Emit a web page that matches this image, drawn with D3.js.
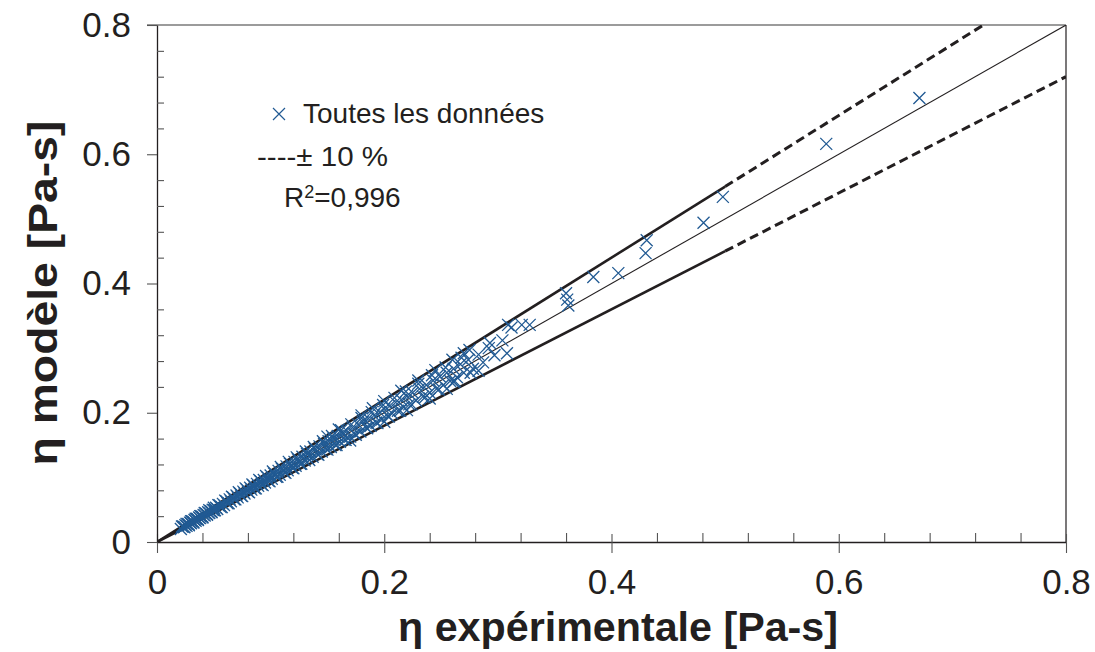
<!DOCTYPE html>
<html><head><meta charset="utf-8">
<script src="https://cdn.jsdelivr.net/npm/d3@7"></script>
<style>
html,body{margin:0;padding:0;background:#fff;}
text{font-family:"Liberation Sans",Arial,sans-serif;fill:#231f20;}
</style></head>
<body>
<svg id="c" width="1095" height="652"></svg>
<script>
// Experimental viscosity (x) and model viscosity (y), Pa-s
const expVals = [
0.021,0.023,0.024,0.025,0.026,0.027,0.028,0.029,0.030,0.031,0.032,0.033,0.034,0.035,0.036,0.037,0.038,0.039,0.040,0.041,
0.042,0.043,0.044,0.045,0.046,0.047,0.048,0.049,0.050,0.052,0.053,0.055,0.056,0.058,0.059,0.061,0.062,0.064,0.065,0.067,
0.068,0.070,0.071,0.073,0.074,0.076,0.077,0.079,0.080,0.082,0.083,0.085,0.086,0.088,0.089,0.091,0.092,0.094,0.095,0.097,
0.098,0.100,0.101,0.103,0.105,0.107,0.108,0.110,0.112,0.114,0.115,0.117,0.119,0.121,0.122,0.124,0.126,0.128,0.130,0.132,
0.133,0.135,0.137,0.139,0.141,0.143,0.145,0.147,0.149,0.151,0.153,0.155,0.157,0.159,0.161,0.163,0.165,0.167,0.170,0.172,
0.174,0.177,0.179,0.181,0.184,0.186,0.188,0.191,0.193,0.196,0.198,0.200,0.203,0.205,0.207,0.210,0.212,0.215,0.217,0.220,
0.222,0.225,0.228,0.231,0.234,0.237,0.240,0.243,0.246,0.249,0.252,0.255,0.258,0.261,0.264,0.267,0.270,0.274,0.278,0.283,
0.287,0.292,0.297,
0.150,0.160,0.180,0.190,0.200,0.215,0.230,0.245,0.260,0.270,0.275,
0.170,0.200,0.220,0.240,0.255,0.283,0.261,0.308,
0.293,0.304,0.309,0.312,0.321,0.328,0.360,0.361,0.362,0.384,0.406,0.430,0.431,0.481,0.498,0.589,0.671
];
const modelVals = [
0.020,0.024,0.023,0.026,0.025,0.028,0.027,0.030,0.029,0.032,0.031,0.034,0.033,0.036,0.035,0.038,0.037,0.040,0.039,0.042,
0.041,0.044,0.043,0.046,0.045,0.048,0.047,0.050,0.049,0.053,0.051,0.057,0.054,0.059,0.057,0.063,0.060,0.066,0.063,0.069,
0.066,0.072,0.069,0.075,0.072,0.078,0.075,0.081,0.078,0.084,0.081,0.087,0.083,0.090,0.087,0.094,0.089,0.096,0.092,0.100,
0.095,0.103,0.098,0.106,0.101,0.110,0.104,0.113,0.108,0.117,0.111,0.121,0.115,0.124,0.118,0.128,0.121,0.132,0.126,0.136,
0.129,0.140,0.132,0.144,0.136,0.148,0.140,0.152,0.144,0.156,0.147,0.160,0.150,0.164,0.155,0.168,0.158,0.172,0.163,0.177,
0.167,0.182,0.171,0.186,0.177,0.191,0.180,0.196,0.185,0.201,0.190,0.206,0.195,0.211,0.199,0.216,0.203,0.220,0.209,0.226,
0.213,0.231,0.219,0.237,0.225,0.243,0.231,0.250,0.237,0.256,0.243,0.262,0.249,0.268,0.255,0.275,0.262,0.282,0.268,0.290,
0.278,0.300,0.289,
0.163,0.174,0.196,0.207,0.218,0.234,0.250,0.266,0.282,0.292,0.297,
0.157,0.186,0.204,0.222,0.237,0.265,0.248,0.292,
0.308,0.312,0.336,0.332,0.336,0.336,0.385,0.375,0.366,0.410,0.416,0.447,0.467,0.494,0.534,0.616,0.687
];
// second batch of measurements (dense low-viscosity range)
const expVals2 = [
0.022,0.024,0.026,0.028,0.030,0.032,0.034,0.036,0.038,0.040,0.042,0.044,0.046,0.048,0.050,0.051,
0.054,0.057,0.060,0.063,0.066,0.069,0.072,0.075,0.078,0.081,0.084,0.087,0.090,0.093,0.096,0.099,0.102,
0.106,0.109,0.113,0.116,0.120,0.123,0.127,0.131,0.134,0.138,0.142,0.146,0.150,0.154,0.158,0.162,0.166,
0.171,0.175,0.180,0.185,0.189,0.194,0.199,0.204,0.209,0.214,0.219,0.224,
0.230,0.236,0.242,0.248,0.254,0.262,0.268,0.276
];
const modelVals2 = [
0.024,0.023,0.028,0.026,0.032,0.030,0.036,0.034,0.040,0.038,
0.045,0.042,0.049,0.046,0.053,0.049,0.057,0.054,0.064,0.060,
0.070,0.066,0.077,0.071,0.083,0.077,0.089,0.083,0.096,0.088,
0.102,0.094,0.109,0.101,0.116,0.107,0.124,0.114,0.131,0.121,
0.140,0.127,0.147,0.135,0.156,0.143,0.164,0.150,0.173,0.158,
0.182,0.166,0.192,0.176,0.201,0.184,0.212,0.194,0.223,0.203,
0.233,0.213,0.245,0.224,0.258,0.236,0.270,0.249,0.285,0.262
];
const majorTicks = [0, 0.2, 0.4, 0.6, 0.8];
const minorTicks = [0.04,0.08,0.12,0.16,0.24,0.28,0.32,0.36,0.44,0.48,0.52,0.56,0.64,0.68,0.72,0.76];
const tickLabels = ["0","0.2","0.4","0.6","0.8"];
const bandFactors = [1.1, 0.9];
const solidLimit = 0.5;
const legendLabels = ["Toutes les données", "----\u00B1 10 %"];
const xTitle = "\u03B7 expérimentale [Pa-s]";
const yTitle = "\u03B7 modèle [Pa-s]";

const svg = d3.select("#c");
const L = 157, R = 1066, T = 25, B = 542;
const x = d3.scaleLinear().domain([0, 0.8]).range([L, R]);
const y = d3.scaleLinear().domain([0, 0.8]).range([B, T]);
const blue = "#215a93", ink = "#231f20";

svg.append("defs").append("clipPath").attr("id","clip")
  .append("rect").attr("x",L).attr("y",T).attr("width",R-L).attr("height",B-T);

// frame: top gray, right black
svg.append("line").attr("x1",L-10).attr("x2",R).attr("y1",T).attr("y2",T).attr("stroke","#7a7a7a").attr("stroke-width",1.3);
svg.append("line").attr("x1",R).attr("x2",R).attr("y1",T).attr("y2",B).attr("stroke",ink).attr("stroke-width",1.2);

// x axis
const fmt = (d) => tickLabels[majorTicks.indexOf(d)];
const gx = svg.append("g").attr("transform",`translate(0,${B})`)
  .call(d3.axisBottom(x).tickValues(majorTicks).tickFormat(fmt).tickSizeOuter(0).tickSizeInner(11).tickPadding(16));
gx.select(".domain").attr("stroke",ink).attr("stroke-width",1.3);
gx.selectAll(".tick line").attr("y1",-8).attr("stroke","#555").attr("stroke-width",1.1);
gx.selectAll(".tick text").attr("font-size",35).attr("fill",ink).attr("font-family","Liberation Sans, Arial, sans-serif");
const gxm = svg.append("g").attr("transform",`translate(0,${B})`)
  .call(d3.axisBottom(x).tickValues(minorTicks).tickFormat("").tickSizeOuter(0).tickSizeInner(-9));
gxm.select(".domain").remove();
gxm.selectAll(".tick line").attr("stroke","#555").attr("stroke-width",1.1);

// y axis
const gy = svg.append("g").attr("transform",`translate(${L},0)`)
  .call(d3.axisLeft(y).tickValues(majorTicks).tickFormat(fmt).tickSizeOuter(0).tickSizeInner(10).tickPadding(16));
gy.select(".domain").attr("stroke",ink).attr("stroke-width",1.3);
gy.selectAll(".tick line").attr("stroke","#555").attr("stroke-width",1.1);
gy.selectAll(".tick text").attr("font-size",35).attr("fill",ink).attr("font-family","Liberation Sans, Arial, sans-serif");
const gym = svg.append("g").attr("transform",`translate(${L},0)`)
  .call(d3.axisLeft(y).tickValues(minorTicks).tickFormat("").tickSizeOuter(0).tickSizeInner(-7));
gym.select(".domain").remove();
gym.selectAll(".tick line").attr("stroke","#555").attr("stroke-width",1.1);

const plot = svg.append("g").attr("clip-path","url(#clip)");
// 1:1 line
plot.append("line").attr("x1",x(0)).attr("y1",y(0)).attr("x2",x(0.8)).attr("y2",y(0.8))
  .attr("stroke",ink).attr("stroke-width",1.1);
// ±10% lines
bandFactors.forEach(f => {
  plot.append("line").attr("x1",x(0)).attr("y1",y(0)).attr("x2",x(solidLimit)).attr("y2",y(solidLimit*f))
    .attr("stroke",ink).attr("stroke-width",2.6);
  plot.append("line").attr("x1",x(solidLimit)).attr("y1",y(solidLimit*f)).attr("x2",x(0.8)).attr("y2",y(0.8*f))
    .attr("stroke",ink).attr("stroke-width",3).attr("stroke-dasharray","9,5");
});

// markers
const s = 6;
const cross = (cx, cy) => `M${cx-s},${cy-s}L${cx+s},${cy+s}M${cx-s},${cy+s}L${cx+s},${cy-s}`;
const pts = expVals.map((v,i)=>[v, modelVals[i]]).concat(expVals2.map((v,i)=>[v, modelVals2[i]]));
plot.selectAll("path.pt").data(pts).join("path")
  .attr("class","pt").attr("d", d => cross(x(d[0]), y(d[1])))
  .attr("fill","none").attr("stroke",blue).attr("stroke-width",1.3);

// legend
svg.append("path").attr("stroke",blue).attr("stroke-width",1.2)
  .attr("d", `M273,108L285,120M273,120L285,108`);
svg.append("text").attr("x",303).attr("y",123).attr("font-size",28).text(legendLabels[0]);
svg.append("text").attr("x",257).attr("y",166).attr("font-size",28)
  .attr("textLength",131).attr("lengthAdjust","spacingAndGlyphs").text(legendLabels[1]);
const r2 = svg.append("text").attr("x",284).attr("y",207).attr("font-size",28);
r2.append("tspan").text("R");
r2.append("tspan").attr("dy",-9).attr("font-size",18).text("2");
r2.append("tspan").attr("dy",9).text("=0,996");

// axis titles
svg.append("text").attr("x",618).attr("y",641).attr("text-anchor","middle").attr("font-size",40)
  .attr("font-weight","bold").attr("textLength",440).attr("lengthAdjust","spacingAndGlyphs").text(xTitle);
svg.append("text").attr("transform","translate(57,293) rotate(-90)").attr("text-anchor","middle")
  .attr("font-size",40).attr("font-weight","bold").attr("textLength",345).attr("lengthAdjust","spacingAndGlyphs").text(yTitle);
</script>
</body></html>
